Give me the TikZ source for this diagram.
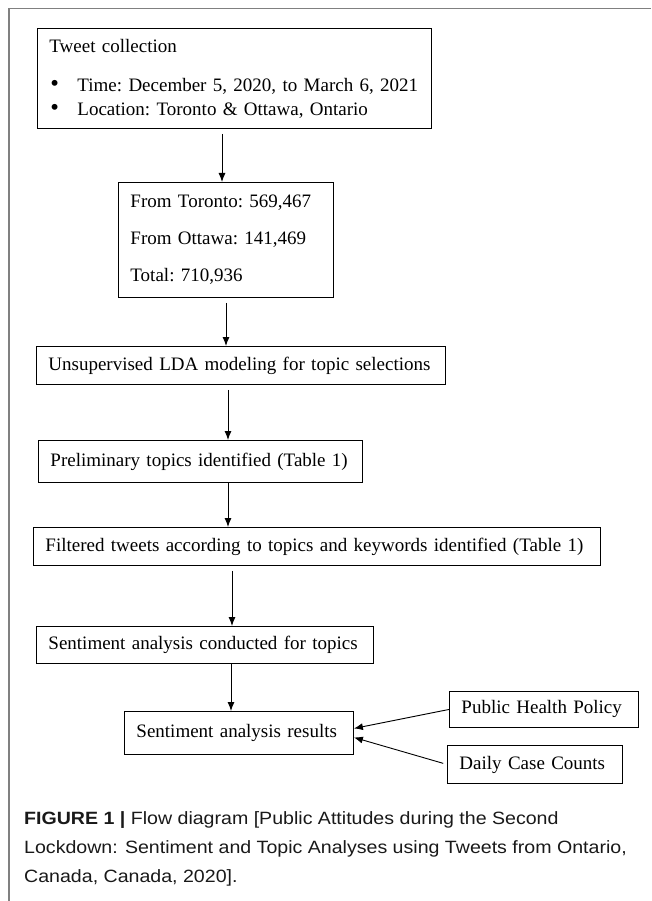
\documentclass[tikz,border=0pt]{standalone}
\usepackage{fontspec}
\setmainfont{Liberation Serif}
\newfontfamily\capfont{Liberation Sans}[FakeStretch=1.1]
\usetikzlibrary{calc}
\usetikzlibrary{arrows.meta}
\newcommand{\listdot}{\makebox[28pt][l]{\hspace{1pt}\smash{\scalebox{1.3}{\textbullet}}}}

\begin{document}
\begin{tikzpicture}[x=1pt,y=-1pt,
        box/.style={draw,line width=0.9pt,anchor=north west,inner xsep=12pt,inner ysep=0pt,
            align=left,font=\fontsize{19}{24}\selectfont\frenchspacing},
        flow/.style={line width=0.9pt,-{Latex[length=9pt,width=7pt]}},
        gap/.style={shorten <=5pt}]%
        \useasboundingbox (0,0) rectangle (651,901);%
        \draw [gray,line width=1.5pt] (9,901) -- (9,8.5) -- (651,8.5);%
        % boxes
        \node [box,text width=370pt,minimum height=100pt] (collect) at (37,28)
            {Tweet collection\\[15pt]%
             \listdot Time: December 5, 2020, to March 6, 2021\\
             \listdot Location: Toronto \& Ottawa, Ontario};%
        \node [box,text width=191pt,minimum height=115pt] (counts) at (118,182)
            {From Toronto: 569,467\\[13pt]From Ottawa: 141,469\\[13pt]Total: 710,936};%
        \node [box,text width=385pt,minimum height=38pt] (lda) at (36,346)
            {Unsupervised LDA modeling for topic selections};%
        \node [box,text width=300pt,minimum height=42pt] (topics) at (38,440)
            {Preliminary topics identified (Table 1)};%
        \node [box,text width=543pt,minimum height=38pt] (filter) at (33,527)
            {Filtered tweets according to topics and keywords identified (Table 1)};%
        \node [box,text width=313pt,minimum height=37pt] (analysis) at (36,626)
            {Sentiment analysis conducted for topics};%
        \node [box,text width=205pt,minimum height=43pt] (results) at (124,711)
            {Sentiment analysis results};%
        \node [box,text width=165pt,minimum height=36pt] (policy) at (449,691)
            {Public Health Policy};%
        \node [box,text width=151pt,minimum height=38pt] (cases) at (447,745)
            {Daily Case Counts};%
        % arrows
        \draw [flow,gap] (collect.south -| 222,0) -- (counts.north -| 222,0);%
        \draw [flow,gap] (counts.south -| 226,0) -- (lda.north -| 226,0);%
        \draw [flow,gap] (lda.south -| 228,0) -- (topics.north -| 228,0);%
        \draw [flow] (topics.south -| 228,0) -- (filter.north -| 228,0);%
        \draw [flow,gap] (filter.south -| 232,0) -- (analysis.north -| 232,0);%
        \draw [flow] (analysis.south -| 231,0) -- (results.north -| 231,0);%
        \draw [flow] (policy.west) -- ([yshift=4.5pt]results.east);%
        \draw [flow,shorten <=4pt] (cases.west) -- ([yshift=-4.5pt]results.east);%
        % caption
        \node [anchor=north west,align=left,inner sep=0pt,text=black!90,
            font=\capfont\fontsize{17.8}{29}\selectfont] (caption) at (24,811)
            {{\bfseries FIGURE 1 |} Flow diagram [Public Attitudes during the Second\\
             Lockdown: Sentiment and Topic Analyses using Tweets from Ontario,\\
             Canada, Canada, 2020].};%
    \end{tikzpicture}
\end{document}
